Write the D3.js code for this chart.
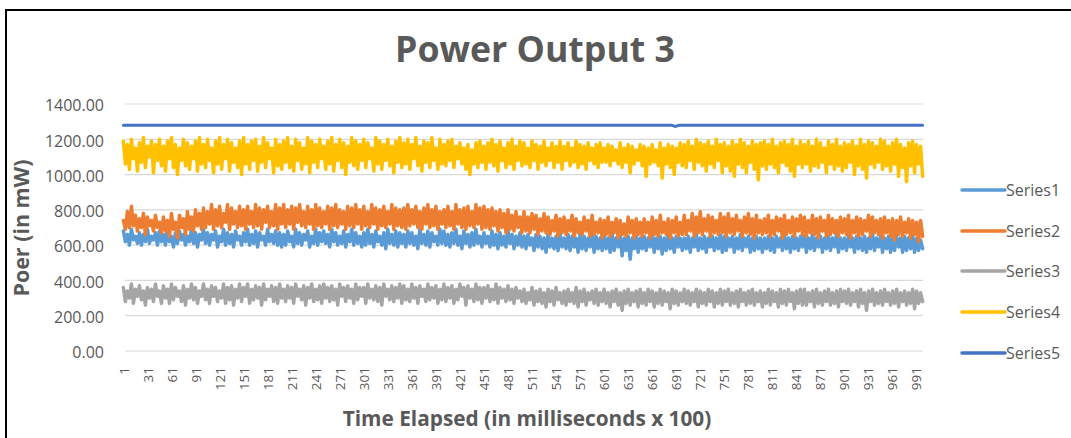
<!DOCTYPE html>
<html>
<head>
<meta charset="utf-8">
<script src="https://cdn.jsdelivr.net/npm/d3@7/dist/d3.min.js"></script>
<style>
  html, body { margin: 0; padding: 0; background: #fff; }
  svg { display: block; }
  text { font-family: "Open Sans", "Noto Sans", sans-serif; fill: #595959; }
</style>
</head>
<body>
<svg id="chart" width="1071" height="438"></svg>
<script>
// Power readings (mW), sampled evenly across the 1..1000 time steps (20 samples per row)
const series1 = [
  680,620,660,600,690,630,650,610,670,600,660,620,690,610,650,630,670,600,680,620,
  660,600,690,620,650,590,670,610,680,630,660,600,650,620,690,610,670,590,660,630,
  690,610,670,600,660,630,680,590,650,620,690,600,670,610,660,590,680,630,650,600,
  670,620,690,600,660,610,680,590,670,630,650,600,690,620,660,610,680,600,670,590,
  660,600,680,620,650,590,690,610,670,600,660,630,680,590,650,610,690,600,670,620,
  680,610,660,590,690,620,670,600,650,610,680,590,660,620,690,600,670,610,650,590,
  670,600,690,610,660,590,680,620,650,600,670,580,690,610,660,600,680,590,670,610,
  660,590,680,610,670,600,650,580,690,610,660,600,680,590,670,620,650,600,690,610,
  680,600,660,590,670,610,690,600,650,580,680,610,660,590,670,600,690,610,650,590,
  670,610,650,590,680,600,660,580,670,600,650,590,680,610,660,580,650,600,670,590,
  650,580,660,600,640,570,660,590,650,580,640,560,660,590,640,580,650,570,660,590,
  640,580,660,570,650,590,640,560,660,580,650,570,640,590,660,560,650,580,640,570,
  650,580,640,560,660,570,640,590,650,540,640,570,650,520,640,580,650,560,640,580,
  650,570,640,590,660,560,640,580,650,550,640,570,660,580,640,560,650,590,640,570,
  640,580,650,560,640,590,660,570,640,580,650,560,640,590,650,570,640,580,660,560,
  650,570,640,590,650,560,640,580,660,570,640,590,650,560,640,570,650,580,640,560,
  640,580,650,570,640,560,650,590,640,570,660,580,640,560,650,580,640,570,650,590,
  650,560,640,580,660,570,640,590,650,560,640,580,650,570,640,590,660,560,640,580,
  640,570,650,590,640,560,650,580,640,570,650,560,640,580,660,570,640,590,650,560,
  640,580,650,560,640,570,650,590,640,560,650,570,640,580,650,560,640,570,630,580
];
const series2 = [
  740,690,790,700,820,710,770,680,750,700,780,660,760,710,740,680,770,700,730,670,
  760,680,740,650,780,690,730,640,770,700,750,660,790,690,760,680,800,710,780,690,
  810,700,790,720,830,690,800,710,820,700,780,730,830,690,810,720,790,700,820,710,
  800,690,820,720,790,700,830,710,810,690,800,730,820,700,790,710,830,690,810,720,
  830,700,800,720,820,690,810,730,830,710,790,700,820,720,800,690,830,710,810,700,
  790,720,820,690,810,710,830,700,800,720,790,690,820,710,810,700,830,720,800,690,
  820,710,790,700,830,720,810,690,800,710,820,700,790,720,830,690,810,710,800,700,
  810,690,830,710,800,720,820,700,790,690,810,720,830,700,800,710,820,690,790,720,
  800,700,820,710,790,690,830,720,800,700,810,690,820,710,790,700,830,720,810,690,
  820,700,800,690,810,710,790,680,800,700,780,670,800,690,770,680,790,700,760,670,
  790,680,760,670,780,690,770,660,750,680,780,670,760,660,740,680,770,650,750,670,
  760,660,740,680,770,650,750,670,730,660,760,680,740,650,770,660,730,670,750,640,
  740,660,760,650,730,670,750,640,740,660,720,650,760,670,740,640,750,660,730,650,
  750,670,730,640,760,660,740,650,770,670,730,660,750,640,740,670,760,650,730,660,
  770,660,740,680,780,650,760,670,790,660,750,680,770,650,760,670,740,660,780,670,
  760,650,780,670,750,660,770,680,740,650,760,670,780,660,750,640,770,670,740,660,
  750,670,770,650,740,660,760,680,750,640,770,660,740,670,760,650,750,680,770,660,
  760,650,740,670,770,660,750,640,760,680,740,650,770,660,750,670,740,650,760,670,
  750,660,770,640,740,670,760,650,750,660,740,680,770,650,760,670,740,660,750,640,
  760,670,740,650,750,630,740,660,760,650,730,670,750,640,740,660,730,620,740,650
];
const series3 = [
  360,280,340,300,380,270,350,310,370,290,340,260,360,300,350,280,380,310,340,270,
  370,300,350,270,380,290,360,310,340,280,370,260,350,300,380,290,360,270,340,310,
  380,290,350,270,370,310,360,280,340,300,380,270,360,290,370,260,350,300,380,280,
  360,310,380,270,350,290,370,300,360,260,380,290,350,310,370,280,360,270,380,300,
  350,280,370,300,360,270,380,310,350,290,370,260,360,300,380,280,350,290,370,270,
  380,300,360,280,370,290,350,260,380,310,360,280,370,300,350,270,380,290,360,310,
  360,270,380,300,350,290,370,280,360,260,380,310,350,290,370,280,360,300,380,270,
  370,290,350,280,380,300,360,270,370,310,350,280,380,290,360,300,370,270,350,290,
  380,280,360,300,370,270,350,290,380,310,360,260,370,300,350,280,380,290,360,270,
  360,300,370,280,350,290,380,270,360,300,350,280,370,290,350,270,360,300,340,280,
  350,270,330,290,360,260,340,280,350,270,330,250,350,280,340,260,360,290,330,270,
  340,260,350,280,330,270,360,250,340,280,350,260,330,290,340,270,350,260,330,280,
  350,270,330,250,340,280,350,260,330,230,340,270,350,260,330,280,340,250,350,270,
  330,260,350,280,340,250,330,270,350,260,340,280,330,240,350,270,340,260,330,280,
  350,270,340,260,330,280,350,250,340,270,330,260,350,280,340,250,330,270,350,260,
  340,280,350,260,330,270,340,250,350,280,330,260,340,270,350,260,330,280,340,250,
  330,270,350,260,340,280,330,250,350,270,340,260,350,280,330,240,340,270,350,260,
  350,260,330,280,340,250,350,270,330,260,340,280,350,260,330,270,340,250,350,280,
  340,270,350,260,330,280,340,250,350,270,330,230,340,280,350,260,330,270,340,260,
  350,280,330,260,340,270,350,250,330,280,340,260,330,270,350,240,340,270,330,280
];
const series4 = [
  1190,1060,1170,1030,1200,1090,1150,1020,1180,1070,1210,1040,1160,1100,1190,1010,1170,1080,1200,1050,
  1160,1020,1190,1090,1210,1040,1170,1000,1150,1080,1200,1050,1180,1030,1160,1090,1190,1020,1210,1060,
  1170,1040,1200,1080,1150,1010,1190,1060,1210,1030,1170,1090,1200,1020,1180,1070,1150,1040,1190,1000,
  1210,1060,1170,1030,1190,1080,1200,1020,1160,1070,1210,1040,1180,1090,1150,1010,1200,1050,1170,1030,
  1190,1070,1210,1040,1160,1020,1200,1080,1180,1030,1150,1060,1210,1010,1190,1070,1170,1040,1200,1090,
  1160,1030,1190,1060,1210,1020,1170,1080,1200,1040,1180,1000,1160,1070,1210,1050,1190,1030,1170,1080,
  1200,1040,1180,1090,1150,1020,1210,1060,1190,1030,1170,1080,1200,1050,1160,1010,1190,1070,1210,1040,
  1180,1060,1200,1030,1170,1090,1210,1050,1160,1020,1190,1070,1180,1040,1210,1080,1150,1030,1200,1060,
  1170,1050,1190,1080,1200,1040,1160,1090,1180,1060,1150,1030,1170,1000,1140,1060,1180,1040,1190,1070,
  1160,1030,1180,1070,1200,1050,1170,1020,1190,1080,1150,1040,1180,1060,1200,1030,1160,1080,1190,1050,
  1180,1060,1150,1040,1190,1080,1170,1030,1160,1070,1190,1050,1150,1080,1180,1040,1160,1070,1190,1030,
  1160,1080,1180,1050,1150,1070,1190,1040,1170,1060,1160,1030,1180,1080,1150,1060,1170,1040,1180,1070,
  1150,1070,1170,1050,1160,1080,1140,1060,1180,1040,1150,1070,1170,1010,1160,1060,1140,1080,1170,1050,
  1160,990,1150,1060,1170,1070,1140,1050,1180,980,1150,1060,1170,1040,1160,1000,1150,1070,1180,1050,
  1170,1040,1190,1080,1160,1030,1200,1070,1180,1050,1170,1020,1190,1060,1160,1040,1200,1080,1170,1010,
  1180,1050,1160,1020,1190,990,1170,1060,1200,1040,1180,1010,1160,1070,1190,1030,1170,970,1180,1050,
  1190,1030,1170,1060,1200,1040,1160,1010,1180,1070,1190,1050,1170,1020,1200,990,1160,1060,1190,1040,
  1170,1060,1190,1020,1160,1050,1200,1040,1180,1070,1150,1010,1190,1060,1170,1030,1200,1050,1160,1020,
  1180,1040,1170,1070,1190,1000,1160,1050,1200,1030,1170,980,1190,1060,1180,1040,1160,1070,1200,1030,
  1190,1050,1160,1020,1180,1060,1200,990,1170,1040,1150,960,1180,1050,1190,1010,1170,1060,1160,990
];
// Series5 is a flat reference level with one short dip
const series5Steps = [1, 686, 691, 696, 1000];
const series5 = [1280, 1280, 1273, 1280, 1280];

const seriesNames = ["Series1", "Series2", "Series3", "Series4", "Series5"];
const seriesColors = ["#5B9BD5", "#ED7D31", "#A5A5A5", "#FFC000", "#4472C4"];
const yTicks = [0, 200, 400, 600, 800, 1000, 1200, 1400];
const xTickLabels = d3.range(1, 1000, 30); // 1, 31, ..., 991

const titleText = "Power Output 3";
const xTitleText = "Time Elapsed (in milliseconds x 100)";
const yTitleText = "Poer (in mW)";

const svg = d3.select("#chart");
const plot = { left: 123, right: 923, top: 104, bottom: 351 };

const x = d3.scaleLinear().domain([0.5, 1000.5]).range([plot.left, plot.right]);
const y = d3.scaleLinear().domain([0, 1400]).range([plot.bottom, plot.top]);

// outer frame (top and left edges)
svg.append("path")
  .attr("d", "M6,438 L6,10 L1071,10")
  .attr("fill", "none").attr("stroke", "#000").attr("stroke-width", 2);

// horizontal gridlines
svg.append("g").selectAll("line").data(yTicks).join("line")
  .attr("x1", plot.left + 2).attr("x2", plot.right)
  .attr("y1", d => y(d)).attr("y2", d => y(d))
  .attr("stroke", "#D9D9D9").attr("stroke-width", 1.2);

// y axis labels
const yAxis = d3.axisLeft(y).tickValues(yTicks).tickFormat(d => d.toFixed(2)).tickSize(0).tickPadding(0);
const yG = svg.append("g").attr("transform", `translate(${plot.left - 19},0)`).call(yAxis);
yG.select(".domain").remove();
yG.selectAll("text").attr("font-size", 16).attr("dy", "0.42em")
  .style("font-family", '"Open Sans", sans-serif').style("fill", "#595959");

// x axis labels, rotated to read upward
const xAxis = d3.axisBottom(x).tickValues(xTickLabels).tickFormat(d3.format("d")).tickSize(0).tickPadding(0);
const xG = svg.append("g").attr("transform", `translate(0,${plot.bottom})`).call(xAxis);
xG.select(".domain").remove();
xG.selectAll("text")
  .attr("transform", "rotate(-90)")
  .attr("x", -16).attr("y", 0).attr("dy", "0.36em")
  .attr("text-anchor", "end")
  .attr("font-size", 13.5)
  .style("font-family", '"Open Sans", sans-serif').style("fill", "#595959");

// series lines
const noisySeries = [series1, series2, series3, series4];
const stepOf = (i, n) => 1 + i * 999 / (n - 1);
const line = d3.line().x(d => x(d[0])).y(d => y(d[1]));

noisySeries.forEach((vals, s) => {
  const pts = vals.map((v, i) => [stepOf(i, vals.length), v]);
  svg.append("path").datum(pts)
    .attr("d", line)
    .attr("fill", "none")
    .attr("stroke", seriesColors[s])
    .attr("stroke-width", 3.5)
    .attr("stroke-linejoin", "round")
    .attr("stroke-linecap", "round");
});
svg.append("path").datum(series5.map((v, i) => [series5Steps[i], v]))
  .attr("d", line)
  .attr("fill", "none")
  .attr("stroke", seriesColors[4])
  .attr("stroke-width", 3)
  .attr("stroke-linecap", "round");

// legend
const legendY = [190, 231, 271, 312, 353];
const lg = svg.append("g");
seriesNames.forEach((name, i) => {
  lg.append("line")
    .attr("x1", 962).attr("x2", 1005)
    .attr("y1", legendY[i]).attr("y2", legendY[i])
    .attr("stroke", seriesColors[i]).attr("stroke-width", 3.5)
    .attr("stroke-linecap", "round");
  lg.append("text")
    .attr("x", 1006).attr("y", legendY[i]).attr("dy", "0.36em")
    .attr("font-size", 16)
    .text(name);
});

// fit a text element to a target width by scaling its font size
function fitWidth(sel, target) {
  const fs = parseFloat(sel.attr("font-size"));
  const w = sel.node().getComputedTextLength();
  if (w > 0) sel.attr("font-size", fs * target / w);
}

// title
const title = svg.append("text")
  .attr("x", 535).attr("y", 62)
  .attr("text-anchor", "middle")
  .attr("font-size", 32).attr("font-weight", 700)
  .text(titleText);
fitWidth(title, 280);

// axis titles
const xTitle = svg.append("text")
  .attr("x", 527).attr("y", 426)
  .attr("text-anchor", "middle")
  .attr("font-size", 19).attr("font-weight", 700)
  .text(xTitleText);
fitWidth(xTitle, 369);

const yTitle = svg.append("text")
  .attr("transform", "translate(29,228) rotate(-90)")
  .attr("text-anchor", "middle")
  .attr("font-size", 19).attr("font-weight", 700)
  .text(yTitleText);
fitWidth(yTitle, 137);
</script>
</body>
</html>
